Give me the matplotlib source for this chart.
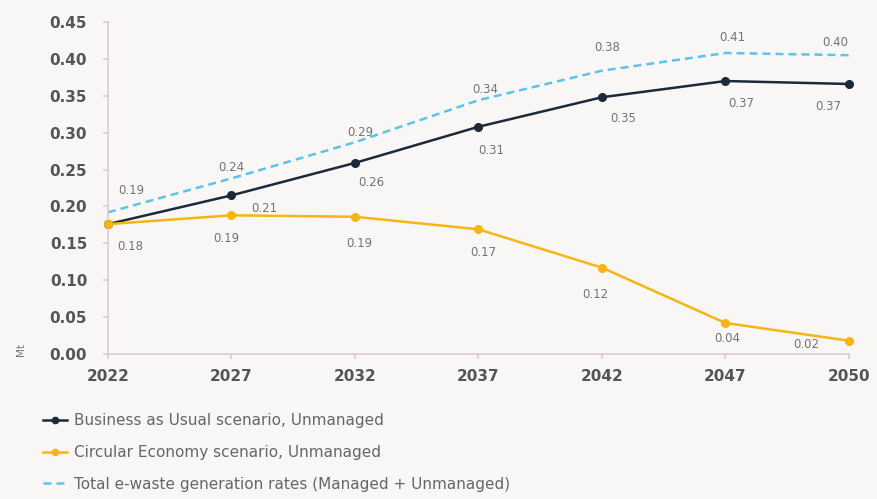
import matplotlib.pyplot as plt

plt.rcParams['font.family'] = ['DejaVu Sans']

years = ['2022', '2027', '2032', '2037', '2042', '2047', '2050']
bau = [0.176, 0.215, 0.259, 0.308, 0.348, 0.370, 0.366]
circular = [0.176, 0.188, 0.186, 0.169, 0.117, 0.042, 0.018]
total = [0.192, 0.238, 0.287, 0.344, 0.384, 0.408, 0.405]

bau_labels = [None, '0.21', '0.26', '0.31', '0.35', '0.37', '0.37']
circ_labels = ['0.18', '0.19', '0.19', '0.17', '0.12', '0.04', '0.02']
total_labels = ['0.19', '0.24', '0.29', '0.34', '0.38', '0.41', '0.40']

# label offsets in points (dx, dy)
bau_off = [None, (24, -9.5), (11.5, -14), (9.5, -17), (15, -15), (11.5, -16), (-15, -16.5)]
circ_off = [(16, -16), (-3.5, -17), (3, -19), (3.5, -16.5), (-4.5, -19), (1.5, -11), (-31, -3)]
total_off = [(17, 16), (0, 7.5), (4, 7), (5, 8), (3.5, 17), (5, 11), (-9.5, 9.5)]

bg = '#f9f7f6'
navy = '#1b2a3a'
gold = '#f6b512'
sky = '#5cc3ea'
axis_col = '#dccccc'
txt = '#555555'

fig = plt.figure(figsize=(8.77, 4.99), dpi=100, facecolor=bg)
ax = fig.add_axes([0.1231, 0.2906, 0.968 - 0.1231, 0.9559 - 0.2906])
ax.set_facecolor(bg)

x = range(len(years))
ax.plot(x, total, color=sky, lw=1.8, ls=(0, (3.2, 2)), clip_on=False,
        label='Total e-waste generation rates (Managed + Unmanaged)', zorder=2)
ax.plot(x, bau, color=navy, lw=1.8, marker='o', ms=5.5, clip_on=False,
        label='Business as Usual scenario, Unmanaged', zorder=3)
ax.plot(x, circular, color=gold, lw=1.8, marker='o', ms=5.5, clip_on=False,
        label='Circular Economy scenario, Unmanaged', zorder=4)

def put_labels(vals, labels, offs):
    for i, (v, lab, off) in enumerate(zip(vals, labels, offs)):
        if lab is None:
            continue
        ax.annotate(lab, (i, v), xytext=off, textcoords='offset points',
                    ha='center', va='center', fontsize=8.5, color='#747474')

put_labels(bau, bau_labels, bau_off)
put_labels(circular, circ_labels, circ_off)
put_labels(total, total_labels, total_off)

ax.set_xlim(0, 6)
ax.set_ylim(0, 0.45)
ax.set_xticks(list(x))
ax.set_xticklabels(years)
ax.set_yticks([i * 0.05 for i in range(10)])
ax.set_yticklabels([f'{i * 0.05:.2f}' for i in range(10)])
for s in ['top', 'right']:
    ax.spines[s].set_visible(False)
for s in ['left', 'bottom']:
    ax.spines[s].set_color(axis_col)
    ax.spines[s].set_linewidth(1.2)
ax.tick_params(axis='both', colors=axis_col, length=3.5, width=1.2,
               labelcolor=txt, labelsize=11)
ax.tick_params(axis='y', pad=11.5)
ax.tick_params(axis='x', pad=7.5)
for t in ax.get_xticklabels() + ax.get_yticklabels():
    t.set_fontweight('bold')

fig.text(0.024, 0.30, 'Mt', rotation=90, fontsize=7.5, color='#777777',
         ha='center', va='center')

h, l = ax.get_legend_handles_labels()
order = [1, 2, 0]
leg = fig.legend([h[i] for i in order], [l[i] for i in order],
                 loc='upper left', bbox_to_anchor=(0.042, 0.184),
                 frameon=False, fontsize=11, handlelength=1.6,
                 handletextpad=0.45, labelspacing=1.09, borderaxespad=0)
for t in leg.get_texts():
    t.set_color('#666666')
for lh in leg.get_lines():
    lh.set_markersize(4.5)

fig.savefig('out.png', dpi=100, facecolor=bg)
